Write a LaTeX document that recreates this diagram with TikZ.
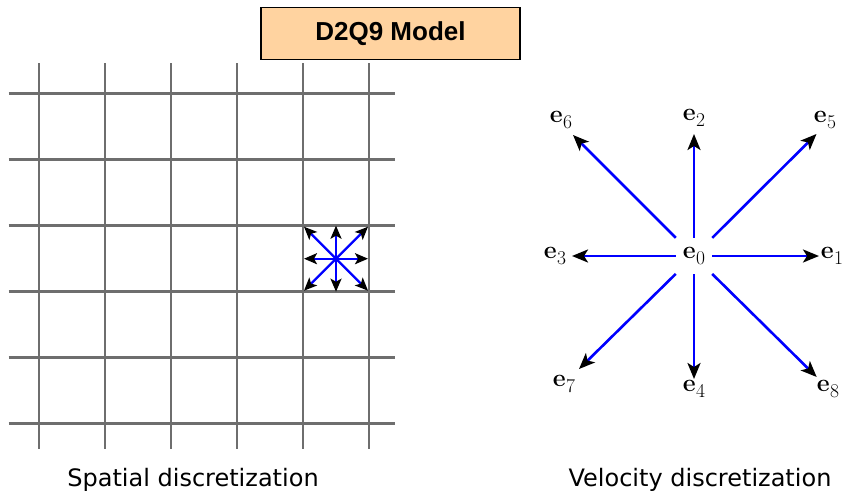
\documentclass[tikz,border=0pt]{standalone}
\usepackage{fontspec}
\newfontfamily\dejavu{DejaVu Sans}
\newfontfamily\libsans{Liberation Sans}
\usetikzlibrary{arrows.meta,calc}
\newcommand\vlab[1]{\textbf{e}\kern0.5pt\raisebox{-5.5pt}{\fontsize{19.5}{21}\selectfont #1}}
\definecolor{peach}{RGB}{255,211,160}
\definecolor{gridgray}{RGB}{110,110,110}
\tikzset{
  gridline/.style={draw=gridgray, line width=2.8pt},
  bigvec/.style={draw=blue, line width=2.6pt, -{Stealth[black, length=16pt, width=13pt, inset=4pt]}},
  smallvec/.style={draw=blue, line width=2.2pt, -{Stealth[black, length=13pt, width=11pt, inset=3pt]}},
  vlabel/.style={font=\fontsize{25}{29}\selectfont, inner sep=0pt},
  caption/.style={font=\dejavu\fontsize{24}{28}\selectfont, anchor=base, inner sep=0pt},
  titlebox/.style={draw=black, line width=1.5pt, fill=peach, minimum width=259pt, minimum height=52pt, inner sep=0pt, font=\libsans\bfseries\fontsize{26}{30}\selectfont}
}
\begin{document}
\begin{tikzpicture}[x=1pt,y=-1pt]
\useasboundingbox (0,0) rectangle (843,492);
% grid
\foreach \gx in {39,105,171,237,303,369} {
  \draw[gridline] (\gx,63.3) -- (\gx,449);
}
\foreach \gy in {93.7,159.7,225.7,291.7,357.7,423.7} {
  \draw[gridline] (8.7,\gy) -- (395.3,\gy);
}
% small star in grid cell
\coordinate (c) at (336,258.7);
\foreach \dx/\dy [count=\i] in {32/0,0/-33,-32/0,0/33,32/-32,-32/-32,-32/32,32/32} {
  \coordinate (s\i) at ($(c)+(\dx,\dy)$);
}
\foreach \i in {1,...,8} { \draw[smallvec] (c) -- (s\i); }
% title
\node[titlebox] (title) at (390.5,33.3) {D2Q9 Model};
% velocity diagram
\node[vlabel, minimum width=36pt, minimum height=36pt] (e0) at (694,256) {\vlab{0}};
\coordinate (t1) at (819,256);
\coordinate (t2) at (694,134);
\coordinate (t3) at (572,256);
\coordinate (t4) at (694,379);
\coordinate (t5) at (816.5,134);
\coordinate (t6) at (573,135);
\coordinate (t7) at (579,369);
\coordinate (t8) at (816.7,377);
\foreach \i in {1,...,8} { \draw[bigvec] (e0) -- (t\i); }
\node[vlabel] (e1) at (832,256) {\vlab{1}};
\node[vlabel] (e2) at (694,118) {\vlab{2}};
\node[vlabel] (e3) at (555,256) {\vlab{3}};
\node[vlabel] (e4) at (694,389) {\vlab{4}};
\node[vlabel] (e5) at (825,120) {\vlab{5}};
\node[vlabel] (e6) at (561,120) {\vlab{6}};
\node[vlabel] (e7) at (564,384) {\vlab{7}};
\node[vlabel] (e8) at (828,389) {\vlab{8}};
% captions
\node[caption] (cap1) at (193,486.5) {Spatial discretization};
\node[caption] (cap2) at (700,486.5) {Velocity discretization};
\end{tikzpicture}
\end{document}
